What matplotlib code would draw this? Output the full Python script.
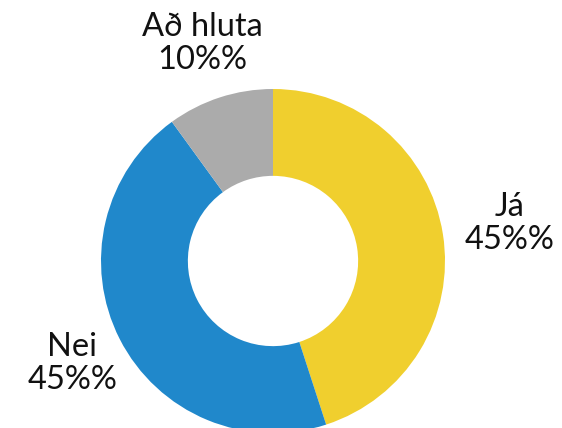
import numpy as np
import matplotlib.pyplot as plt

# ============= data =============
labels = ['Já', 'Nei', 'Að hluta']
values = [45, 45, 10]
colors = ['#F0CF2E', '#2088CB', '#ABABAB']

plt.rcParams['font.family'] = ['Lato', 'DejaVu Sans']

# ============= figure =============
W, H = 562, 428
fig = plt.figure(figsize=(W / 100, H / 100), dpi=100)
ax = fig.add_axes([0, 0, 1, 1])

# pie centre in pixels and radius in pixels
cx, cy, r_px = 273, 261, 172

wedges, _ = ax.pie(values, colors=colors, startangle=90, counterclock=False,
                   radius=1, wedgeprops=dict(width=0.505, linewidth=0))

# how far out each label sits (in radii)
label_dist = [1.39, 1.31, 1.33]

# labels: name on top, value below (kept as "45%%" like the original)
for w, lab, v, d in zip(wedges, labels, values, label_dist):
    mid = np.deg2rad((w.theta1 + w.theta2) / 2)
    ax.text(d * np.cos(mid), d * np.sin(mid), f"{lab}\n{v}%%",
            ha='center', va='center', fontsize=23.5, linespacing=1.12,
            color='#111111')

ax.set_xlim(-cx / r_px, (W - cx) / r_px)
ax.set_ylim(-(H - cy) / r_px, cy / r_px)
ax.set_aspect('equal')
ax.axis('off')

fig.savefig('out.png', dpi=100)
